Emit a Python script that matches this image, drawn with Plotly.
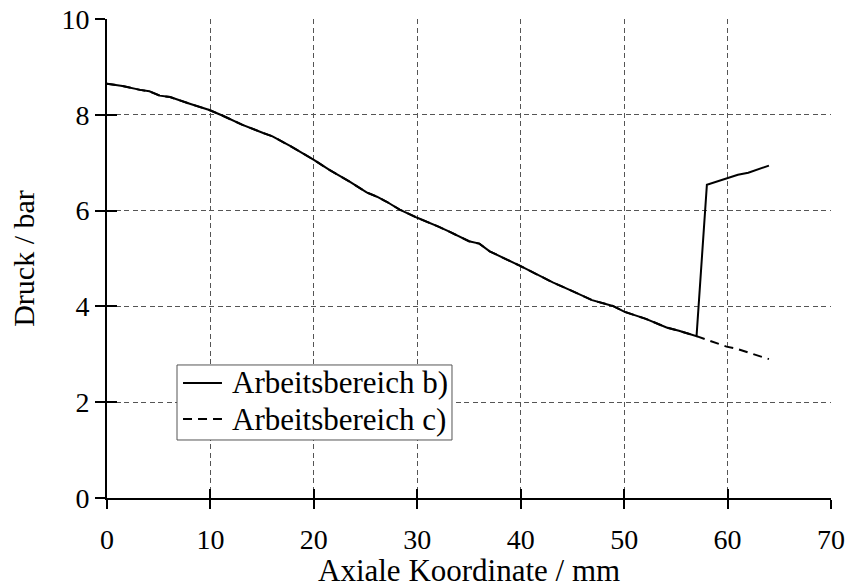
import plotly.graph_objects as go

# Axial coordinate (mm) and pressure (bar)
x_b = [0, 1.5, 3.2, 4.1, 5.1, 6.1, 8.0, 9.9, 11.2, 13.1, 15.1, 16.0, 17.7, 20.0,
       21.5, 23.5, 25.1, 26.1, 27.0, 28.3, 30.0, 31.2, 32.1, 33.1, 35.0, 36.0,
       37.0, 39.9, 41.8, 43.1, 45.0, 46.9, 48.9, 50.0, 52.1, 54.1, 55.3, 57.0,
       58.0, 59.9, 61.0, 62.0, 64.0]
y_b = [8.65, 8.60, 8.52, 8.49, 8.40, 8.37, 8.23, 8.10, 7.98, 7.79, 7.62, 7.55,
       7.35, 7.06, 6.85, 6.60, 6.38, 6.29, 6.19, 6.02, 5.85, 5.75, 5.66, 5.56,
       5.36, 5.31, 5.15, 4.85, 4.65, 4.50, 4.32, 4.13, 4.01, 3.89, 3.74, 3.56,
       3.49, 3.38, 6.54, 6.68, 6.75, 6.79, 6.94]

# Range c follows range b up to 57 mm, then continues without the jump
x_c_tail = [59.9, 60.8, 64.0]
y_c_tail = [3.16, 3.12, 2.90]
n_shared = x_b.index(57.0) + 1
x_c = x_b[:n_shared] + x_c_tail
y_c = y_b[:n_shared] + y_c_tail

x_ticks = [0, 10, 20, 30, 40, 50, 60, 70]
y_ticks = [0, 2, 4, 6, 8, 10]

series_names = ["Arbeitsbereich b)", "Arbeitsbereich c)"]
x_title = "Axiale Koordinate / mm"
y_title = "Druck / bar"

FONT = "Liberation Serif"
DASH = "9px,6px"
fig = go.Figure()

fig.add_trace(go.Scatter(x=x_c, y=y_c, mode="lines", name=series_names[1],
                         line=dict(color="black", width=2, dash=DASH),
                         showlegend=False))
fig.add_trace(go.Scatter(x=x_b, y=y_b, mode="lines", name=series_names[0],
                         line=dict(color="black", width=2),
                         showlegend=False))
# empty trace so the inner-tick axes are rendered
fig.add_trace(go.Scatter(x=[None], y=[None], xaxis="x2", yaxis="y2",
                         showlegend=False, hoverinfo="skip"))

# Legend box drawn in paper coordinates (compact two-row key)
box = dict(x0=0.0967, x1=0.4765, y0=0.1211, y1=0.2777)
rows_y = [0.2401, 0.1649]
line_x = (0.105, 0.1588)
text_x = 0.170
fig.add_shape(type="rect", xref="paper", yref="paper", layer="above",
              fillcolor="white", line=dict(color="#555555", width=1), **box)
for name, ry, dash in zip(series_names, rows_y, ["solid", DASH]):
    fig.add_shape(type="line", xref="paper", yref="paper", layer="above",
                  x0=line_x[0], x1=line_x[1], y0=ry, y1=ry,
                  line=dict(color="black", width=2, dash=dash))
    fig.add_annotation(xref="paper", yref="paper", x=text_x, y=ry,
                       xanchor="left", yanchor="middle", showarrow=False,
                       text=name, font=dict(family=FONT, size=31, color="black"))

# x-axis title placed below the tick labels
fig.add_annotation(xref="paper", yref="paper", x=0.5, y=-0.111,
                   xanchor="center", yanchor="top", showarrow=False,
                   text=x_title, font=dict(family=FONT, size=31, color="black"))

grid = dict(showgrid=True, gridcolor="#555555", gridwidth=1, griddash="5px,3.5px")

fig.update_layout(
    width=849, height=587,
    margin=dict(l=107, r=18, t=19, b=89),
    paper_bgcolor="white", plot_bgcolor="white",
    font=dict(family=FONT, size=28, color="black"),
    showlegend=False,
    xaxis=dict(range=[0, 70], tickvals=x_ticks, ticks="outside", ticklen=9,
               tickwidth=1.5, tickcolor="black", showline=True, linecolor="black",
               linewidth=2, zeroline=False, automargin=False,
               ticklabelstandoff=6,
               tickfont=dict(family=FONT, size=28), **grid),
    yaxis=dict(range=[0, 10], tickvals=y_ticks, ticks="outside", ticklen=10,
               tickwidth=1.5, tickcolor="black", showline=True, linecolor="black",
               linewidth=2, zeroline=False, automargin=False,
               title=dict(text=y_title, standoff=18,
                          font=dict(family=FONT, size=30)),
               tickfont=dict(family=FONT, size=28), **grid),
    xaxis2=dict(range=[0, 70], tickvals=x_ticks, overlaying="x", side="bottom",
                anchor="y", ticks="inside", ticklen=9, tickwidth=1.5,
                tickcolor="black", showticklabels=False, showgrid=False,
                zeroline=False, showline=False, automargin=False),
    yaxis2=dict(range=[0, 10], tickvals=y_ticks, overlaying="y", side="left",
                anchor="x", ticks="inside", ticklen=10, tickwidth=1.5,
                tickcolor="black", showticklabels=False, showgrid=False,
                zeroline=False, showline=False, automargin=False),
)

fig.write_html("out.html")
